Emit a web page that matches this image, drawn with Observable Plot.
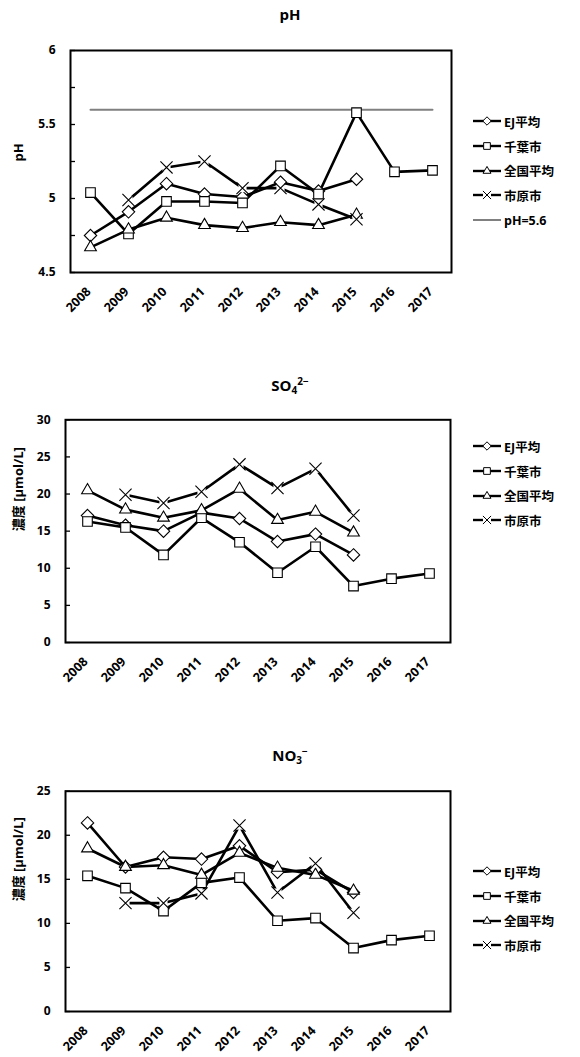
<!DOCTYPE html>
<html><head><meta charset="utf-8">
<script src="https://cdn.jsdelivr.net/npm/d3@7"></script>
<script src="https://cdn.jsdelivr.net/npm/@observablehq/plot@0.6"></script>
<style>
body{margin:0;background:#fff;font-family:"Open Sans","Noto Sans CJK JP",sans-serif;}
#page{position:relative;width:580px;height:1057px;overflow:hidden;}
.chart{position:absolute;left:0;}
.title{position:absolute;left:0;width:580px;text-align:center;font-weight:bold;font-size:15px;color:#000;}
.title sub{font-size:10px;vertical-align:-3px;line-height:0;}
.title sup{font-size:10px;vertical-align:6px;line-height:0;}
.legend{position:absolute;left:472px;font-weight:bold;font-size:12.5px;color:#000;font-family:"Open Sans","Noto Sans CJK JP",sans-serif;}
.legend .row{display:flex;align-items:center;height:24.7px;}
.legend svg{margin-right:2px;}
</style></head>
<body><div id="page"></div>
<script>
const years = ["2008","2009","2010","2011","2012","2013","2014","2015","2016","2017"];
const seriesNames = ["EJ平均","千葉市","全国平均","市原市"];
const symbols = ["diamond2","square","triangle2","times"];

// pH
const phEJ       = [4.75,4.91,5.10,5.03,5.01,5.11,5.05,5.13,null,null];
const phChiba    = [5.04,4.76,4.98,4.98,4.97,5.22,5.03,5.58,5.18,5.19];
const phZenkoku  = [4.67,4.79,4.87,4.82,4.80,4.84,4.82,4.89,null,null];
const phIchihara = [null,4.99,5.21,5.25,5.07,5.07,4.96,4.86,null,null];
const phRef = 5.6;
const phRefLabel = "pH=5.6";
const phTicks = [4.5,5,5.5,6];
const phMinor = [4.5,4.75,5,5.25,5.5,5.75,6];

// SO4 2-
const soEJ       = [17.1,15.8,15.0,17.5,16.7,13.6,14.6,11.8,null,null];
const soChiba    = [16.3,15.5,11.8,16.8,13.5,9.4,12.9,7.6,8.6,9.3];
const soZenkoku  = [20.5,17.9,16.8,17.8,20.7,16.5,17.6,14.8,null,null];
const soIchihara = [null,19.9,18.8,20.3,24.0,20.8,23.4,17.1,null,null];
const soTicks = [0,5,10,15,20,25,30];

// NO3 -
const noEJ       = [21.4,16.4,17.5,17.3,18.8,15.8,16.1,13.5,null,null];
const noChiba    = [15.4,14.0,11.4,14.6,15.2,10.3,10.6,7.2,8.1,8.6];
const noZenkoku  = [18.5,16.4,16.6,15.5,18.0,16.3,15.5,13.7,null,null];
const noIchihara = [null,12.3,12.3,13.4,21.1,13.5,16.8,11.2,null,null];
const noTicks = [0,5,10,15,20,25];

const yLabelPH = "pH";
const yLabelConc = "濃度 [µmol/L]";

const page = document.getElementById("page");
const FONT = '"Open Sans","Noto Sans CJK JP",sans-serif';

function longData(arrs){
  const out = [];
  arrs.forEach((a,si)=>a.forEach((v,i)=>out.push({series:seriesNames[si], year:years[i], value:v, si})));
  return out;
}

function makeChart(o){
  const data = longData(o.series);
  const frameW = 580 - o.ml - o.mr;
  const marks = [];
  if (o.ref != null) {
    marks.push(Plot.line(years.map(y=>({year:y, value:o.ref})), {x:"year", y:"value", stroke:"#808080", strokeWidth:2}));
  }
  seriesNames.forEach((name, si)=>{
    const d = data.filter(r=>r.si===si);
    marks.push(Plot.line(d, {x:"year", y:"value", stroke:"black", strokeWidth:2.6, z:null}));
  });
  seriesNames.forEach((name, si)=>{
    const d = data.filter(r=>r.si===si && r.value!=null);
    if (symbols[si]==="times") {
      marks.push(Plot.dot(d, {x:"year", y:"value", symbol:"square", r:4.6, fill:"white", stroke:"none"}));
      marks.push(Plot.dot(d, {x:"year", y:"value", symbol:"times", r:5.6, stroke:"black", strokeWidth:1.1}));
    } else {
      marks.push(Plot.dot(d, {x:"year", y:"value", symbol:symbols[si], r:symbols[si]==="square"?5.4:5.6, fill:"white", stroke:"black", strokeWidth:1.1}));
    }
  });
  marks.push(Plot.tickY(o.minor, {y:d=>d, stroke:"black", strokeWidth:1.3, insetRight: frameW-5}));
  marks.push(Plot.axisY(o.ticks, {tickSize:0, tickPadding:15, fontWeight:"bold", fontSize:12, tickFormat:d=>String(d)}));
  marks.push(Plot.text(years, {x:d=>d, frameAnchor:"bottom", dy:20, dx:1, rotate:()=>-45, textAnchor:"end", fontWeight:"bold", fontSize:12.5, text:d=>d, className:"xlab"}));
  marks.push(Plot.text([o.ylabel], {frameAnchor:"left", dx:-o.ml+18, rotate:-90, fontWeight:"bold", fontSize:13, text:d=>d}));
  marks.push(Plot.frame({stroke:"black", strokeWidth:2}));
  const svg = Plot.plot({
    width:580, height:o.h,
    marginTop:o.mt, marginBottom:o.h-o.frameBottom, marginLeft:o.ml, marginRight:o.mr,
    style:{fontFamily:FONT, color:"black", background:"white", overflow:"visible"},
    x:{type:"point", domain:years, padding:0.5, label:null, axis:null},
    y:{domain:o.domain, label:null},
    marks
  });
  const wrap = document.createElement("div");
  wrap.className = "chart";
  wrap.style.top = o.top+"px";
  wrap.appendChild(svg);
  page.appendChild(wrap);

  const t = document.createElement("div");
  t.className = "title";
  t.style.top = o.titleTop+"px";
  t.innerHTML = o.title;
  page.appendChild(t);

  const lg = document.createElement("div");
  lg.className = "legend";
  lg.style.top = o.legendTop+"px";
  const entries = seriesNames.map((n,i)=>({name:n, sym:symbols[i]}));
  if (o.refLabel) entries.push({name:o.refLabel, sym:null});
  entries.forEach(e=>{
    const row = document.createElement("div"); row.className="row";
    const s = d3.create("svg").attr("width",30).attr("height",12);
    if (e.sym) {
      s.append("line").attr("x1",1).attr("x2",29).attr("y1",6).attr("y2",6).attr("stroke","black").attr("stroke-width",2.4);
      const sym = {diamond2:d3.symbolDiamond2, square:d3.symbolSquare, triangle2:d3.symbolTriangle2, times:d3.symbolTimes}[e.sym];
      if (e.sym==="times") s.append("rect").attr("x",11).attr("y",2).attr("width",8).attr("height",8).attr("fill","white");
      s.append("path").attr("d", d3.symbol(sym, 45)()).attr("transform","translate(15,6)")
        .attr("fill", e.sym==="times"?"none":"white").attr("stroke","black").attr("stroke-width",1);
    } else {
      s.append("line").attr("x1",1).attr("x2",29).attr("y1",6).attr("y2",6).attr("stroke","#808080").attr("stroke-width",2);
    }
    row.appendChild(s.node());
    const sp = document.createElement("span"); sp.textContent = e.name;
    row.appendChild(sp);
    lg.appendChild(row);
  });
  page.appendChild(lg);
}

makeChart({top:0, h:330, mt:50, frameBottom:272, ml:70, mr:129, domain:[4.5,6], ticks:phTicks, minor:phMinor,
  series:[phEJ,phChiba,phZenkoku,phIchihara], ref:phRef, refLabel:phRefLabel, ylabel:yLabelPH,
  title:"pH", titleTop:4, legendTop:109});
makeChart({top:360, h:340, mt:59.3, frameBottom:282, ml:65, mr:130, domain:[0,30], ticks:soTicks, minor:soTicks,
  series:[soEJ,soChiba,soZenkoku,soIchihara], ref:null, refLabel:null, ylabel:yLabelConc,
  title:"SO<sub>4</sub><sup>2−</sup>", titleTop:375, legendTop:434});
makeChart({top:730, h:327, mt:60.7, frameBottom:281, ml:65, mr:130, domain:[0,25], ticks:noTicks, minor:noTicks,
  series:[noEJ,noChiba,noZenkoku,noIchihara], ref:null, refLabel:null, ylabel:yLabelConc,
  title:"NO<sub>3</sub><sup>−</sup>", titleTop:745, legendTop:859});
</script></body></html>
